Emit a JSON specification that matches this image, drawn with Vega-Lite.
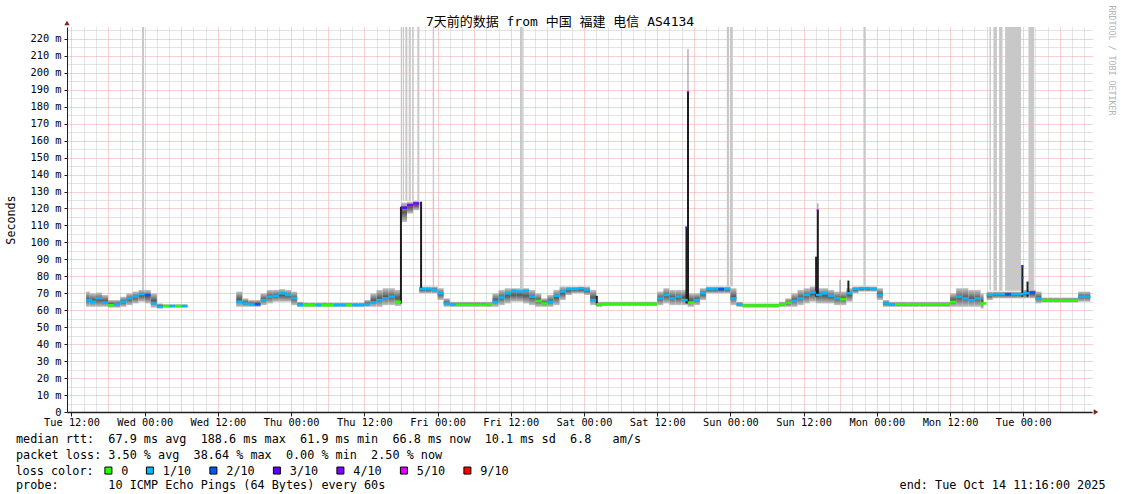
{
  "$schema": "https://vega.github.io/schema/vega-lite/v6.json",
  "width": 1025,
  "height": 385,
  "autosize": "none",
  "padding": {"left": 67, "top": 27, "right": 29, "bottom": 82},
  "background": "white",
  "title": {
    "text": "7天前的数据 from 中国 福建 电信 AS4134",
    "font": "DejaVu Sans Mono, Noto Sans CJK SC",
    "fontSize": 13,
    "fontWeight": "normal",
    "color": "#000000",
    "anchor": "middle",
    "dx": -19.5,
    "offset": -23.5
  },
  "config": {
    "view": {"stroke": null},
    "font": "DejaVu Sans Mono"
  },
  "resolve": {"axis": {"x": "independent", "y": "independent"}},
  "datasets": {
    "smoke": [
      {"t":14.4,"t2":15,"lo":62,"hi":71,"m":66,"l":"1/10"},
      {"t":15,"t2":16,"lo":62,"hi":70,"m":65,"l":"1/10"},
      {"t":16,"t2":17,"lo":62,"hi":70.5,"m":67,"l":"1/10"},
      {"t":17,"t2":18,"lo":62,"hi":69,"m":64.5,"l":"1/10"},
      {"t":18,"t2":19,"lo":61.5,"hi":66,"m":63,"l":"0"},
      {"t":19,"t2":20,"lo":61.5,"hi":66,"m":63.5,"l":"1/10"},
      {"t":20,"t2":21,"lo":62,"hi":68,"m":65,"l":"1/10"},
      {"t":21,"t2":22,"lo":63,"hi":70,"m":67,"l":"1/10"},
      {"t":22,"t2":23,"lo":64,"hi":71,"m":68,"l":"1/10"},
      {"t":23,"t2":24,"lo":65,"hi":72,"m":69.5,"l":"1/10"},
      {"t":24,"t2":25,"lo":64,"hi":72,"m":69,"l":"2/10"},
      {"t":25,"t2":26,"lo":61.5,"hi":70,"m":64,"l":"1/10"},
      {"t":26,"t2":27,"lo":61,"hi":64,"m":62,"l":"1/10"},
      {"t":27,"t2":28,"lo":61.5,"hi":63.5,"m":62.5,"l":"0"},
      {"t":28,"t2":29,"lo":61.5,"hi":63.5,"m":62.5,"l":"1/10"},
      {"t":29,"t2":30,"lo":61.5,"hi":63.5,"m":62.5,"l":"0"},
      {"t":30,"t2":31,"lo":61.5,"hi":63.5,"m":62.5,"l":"1/10"},
      {"t":39,"t2":40,"lo":62,"hi":71,"m":65,"l":"1/10"},
      {"t":40,"t2":41,"lo":62,"hi":67,"m":64,"l":"1/10"},
      {"t":41,"t2":42,"lo":62,"hi":66,"m":63.5,"l":"1/10"},
      {"t":42,"t2":43,"lo":62,"hi":66,"m":63.5,"l":"2/10"},
      {"t":43,"t2":44,"lo":63,"hi":70,"m":66,"l":"1/10"},
      {"t":44,"t2":45,"lo":64,"hi":72,"m":68,"l":"1/10"},
      {"t":45,"t2":46,"lo":65,"hi":72,"m":68.5,"l":"1/10"},
      {"t":46,"t2":47,"lo":65,"hi":72.5,"m":70,"l":"1/10"},
      {"t":47,"t2":48,"lo":65,"hi":72,"m":69,"l":"1/10"},
      {"t":48,"t2":49,"lo":63,"hi":71,"m":67,"l":"1/10"},
      {"t":49,"t2":50,"lo":62,"hi":65,"m":63,"l":"1/10"},
      {"t":50,"t2":51,"lo":62,"hi":64.5,"m":63,"l":"0"},
      {"t":51,"t2":52,"lo":62,"hi":64.5,"m":63,"l":"0"},
      {"t":52,"t2":53,"lo":62,"hi":64.5,"m":63,"l":"1/10"},
      {"t":53,"t2":54,"lo":62,"hi":64.5,"m":63,"l":"0"},
      {"t":54,"t2":55,"lo":62,"hi":64.5,"m":63,"l":"0"},
      {"t":55,"t2":56,"lo":62,"hi":64.5,"m":63,"l":"1/10"},
      {"t":56,"t2":57,"lo":62,"hi":64.5,"m":63,"l":"1/10"},
      {"t":57,"t2":58,"lo":62,"hi":64.5,"m":63,"l":"0"},
      {"t":58,"t2":59,"lo":62,"hi":64.5,"m":63,"l":"1/10"},
      {"t":59,"t2":60,"lo":62,"hi":64.5,"m":63,"l":"1/10"},
      {"t":60,"t2":61,"lo":62,"hi":66,"m":63.5,"l":"1/10"},
      {"t":61,"t2":62,"lo":62,"hi":70,"m":64.5,"l":"1/10"},
      {"t":62,"t2":63,"lo":62,"hi":72,"m":66,"l":"1/10"},
      {"t":63,"t2":64,"lo":63,"hi":73,"m":67,"l":"1/10"},
      {"t":64,"t2":65,"lo":63,"hi":73,"m":68,"l":"1/10"},
      {"t":65,"t2":66,"lo":62.5,"hi":72,"m":65,"l":"0"},
      {"t":66,"t2":67,"lo":112,"hi":123.5,"m":120.5,"l":"3/10"},
      {"t":67,"t2":68,"lo":117,"hi":124,"m":122,"l":"4/10"},
      {"t":68,"t2":69,"lo":119,"hi":124.5,"m":123,"l":"4/10"},
      {"t":69,"t2":70,"lo":70,"hi":74,"m":72.5,"l":"1/10"},
      {"t":70,"t2":71,"lo":70,"hi":74,"m":72.5,"l":"1/10"},
      {"t":71,"t2":72,"lo":70,"hi":74,"m":72,"l":"1/10"},
      {"t":72,"t2":73,"lo":66,"hi":73,"m":70,"l":"1/10"},
      {"t":73,"t2":74,"lo":62,"hi":67,"m":64,"l":"1/10"},
      {"t":74,"t2":75,"lo":62,"hi":65,"m":63.5,"l":"1/10"},
      {"t":75,"t2":76,"lo":62,"hi":65,"m":63.3,"l":"0"},
      {"t":76,"t2":77,"lo":62,"hi":65,"m":63.3,"l":"0"},
      {"t":77,"t2":78,"lo":62,"hi":65,"m":63.3,"l":"0"},
      {"t":78,"t2":79,"lo":62,"hi":65,"m":63.3,"l":"0"},
      {"t":79,"t2":80,"lo":62,"hi":65,"m":63.3,"l":"0"},
      {"t":80,"t2":81,"lo":62,"hi":65,"m":63.5,"l":"0"},
      {"t":81,"t2":82,"lo":62,"hi":70,"m":65,"l":"1/10"},
      {"t":82,"t2":83,"lo":63,"hi":72,"m":67.5,"l":"1/10"},
      {"t":83,"t2":84,"lo":64,"hi":73,"m":70,"l":"1/10"},
      {"t":84,"t2":85,"lo":65,"hi":73,"m":71.5,"l":"1/10"},
      {"t":85,"t2":86,"lo":65,"hi":73,"m":71,"l":"1/10"},
      {"t":86,"t2":87,"lo":64,"hi":73,"m":71.5,"l":"1/10"},
      {"t":87,"t2":88,"lo":63,"hi":72,"m":68,"l":"1/10"},
      {"t":88,"t2":89,"lo":62,"hi":70,"m":65.5,"l":"0"},
      {"t":89,"t2":90,"lo":62,"hi":67,"m":64,"l":"0"},
      {"t":90,"t2":91,"lo":62,"hi":69,"m":65,"l":"1/10"},
      {"t":91,"t2":92,"lo":63,"hi":72,"m":68.5,"l":"1/10"},
      {"t":92,"t2":93,"lo":66,"hi":74,"m":71,"l":"1/10"},
      {"t":93,"t2":94,"lo":69,"hi":74,"m":72.5,"l":"1/10"},
      {"t":94,"t2":95,"lo":70,"hi":74,"m":72.5,"l":"1/10"},
      {"t":95,"t2":96,"lo":70,"hi":74,"m":73,"l":"1/10"},
      {"t":96,"t2":97,"lo":69,"hi":74,"m":72,"l":"1/10"},
      {"t":97,"t2":98,"lo":63,"hi":72,"m":66,"l":"1/10"},
      {"t":98,"t2":99,"lo":62,"hi":65,"m":63.5,"l":"0"},
      {"t":99,"t2":100,"lo":62.5,"hi":65,"m":63.8,"l":"0"},
      {"t":100,"t2":101,"lo":62.5,"hi":65,"m":63.8,"l":"0"},
      {"t":101,"t2":102,"lo":62.5,"hi":65,"m":63.8,"l":"0"},
      {"t":102,"t2":103,"lo":62.5,"hi":65,"m":63.8,"l":"0"},
      {"t":103,"t2":104,"lo":62.5,"hi":65,"m":63.8,"l":"0"},
      {"t":104,"t2":105,"lo":62.5,"hi":65,"m":63.8,"l":"0"},
      {"t":105,"t2":106,"lo":62.5,"hi":65,"m":63.8,"l":"0"},
      {"t":106,"t2":107,"lo":62.5,"hi":65,"m":63.8,"l":"0"},
      {"t":107,"t2":108,"lo":62.5,"hi":65,"m":63.8,"l":"0"},
      {"t":108,"t2":109,"lo":63,"hi":71,"m":67,"l":"1/10"},
      {"t":109,"t2":110,"lo":64,"hi":73,"m":69,"l":"1/10"},
      {"t":110,"t2":111,"lo":63,"hi":72,"m":67,"l":"1/10"},
      {"t":111,"t2":112,"lo":63,"hi":72,"m":68,"l":"1/10"},
      {"t":112,"t2":113,"lo":63,"hi":72,"m":66,"l":"1/10"},
      {"t":113,"t2":114,"lo":62,"hi":70,"m":64.5,"l":"0"},
      {"t":114,"t2":115,"lo":63,"hi":70,"m":66,"l":"1/10"},
      {"t":115,"t2":116,"lo":66,"hi":73,"m":70,"l":"1/10"},
      {"t":116,"t2":117,"lo":70,"hi":74,"m":72.5,"l":"1/10"},
      {"t":117,"t2":118,"lo":70,"hi":74,"m":72.5,"l":"1/10"},
      {"t":118,"t2":119,"lo":70,"hi":74,"m":72.5,"l":"2/10"},
      {"t":119,"t2":120,"lo":70,"hi":74,"m":72.5,"l":"1/10"},
      {"t":120,"t2":121,"lo":63,"hi":73,"m":67,"l":"1/10"},
      {"t":121,"t2":122,"lo":62,"hi":65,"m":63.5,"l":"1/10"},
      {"t":122,"t2":123,"lo":61.5,"hi":64,"m":62.8,"l":"0"},
      {"t":123,"t2":124,"lo":61.5,"hi":64,"m":62.8,"l":"0"},
      {"t":124,"t2":125,"lo":61.5,"hi":64,"m":62.8,"l":"0"},
      {"t":125,"t2":126,"lo":61.5,"hi":64,"m":62.8,"l":"0"},
      {"t":126,"t2":127,"lo":61.5,"hi":64,"m":62.8,"l":"0"},
      {"t":127,"t2":128,"lo":61.5,"hi":64,"m":62.8,"l":"0"},
      {"t":128,"t2":129,"lo":62,"hi":65,"m":63.5,"l":"0"},
      {"t":129,"t2":130,"lo":62,"hi":67,"m":64.5,"l":"0"},
      {"t":130,"t2":131,"lo":62,"hi":70,"m":65.5,"l":"1/10"},
      {"t":131,"t2":132,"lo":63,"hi":72,"m":67,"l":"1/10"},
      {"t":132,"t2":133,"lo":64,"hi":73,"m":69,"l":"1/10"},
      {"t":133,"t2":134,"lo":65,"hi":74,"m":70.5,"l":"1/10"},
      {"t":134,"t2":135,"lo":64,"hi":73,"m":69,"l":"1/10"},
      {"t":135,"t2":136,"lo":64,"hi":73,"m":70,"l":"1/10"},
      {"t":136,"t2":137,"lo":64,"hi":72,"m":68.5,"l":"1/10"},
      {"t":137,"t2":138,"lo":63,"hi":71,"m":67,"l":"1/10"},
      {"t":138,"t2":139,"lo":63,"hi":71,"m":66.5,"l":"0"},
      {"t":139,"t2":140,"lo":65,"hi":73,"m":70,"l":"1/10"},
      {"t":140,"t2":141,"lo":70,"hi":74,"m":72.5,"l":"1/10"},
      {"t":141,"t2":142,"lo":71,"hi":74,"m":73,"l":"1/10"},
      {"t":142,"t2":143,"lo":71,"hi":74,"m":73,"l":"1/10"},
      {"t":143,"t2":144,"lo":71,"hi":74,"m":72.5,"l":"1/10"},
      {"t":144,"t2":145,"lo":66,"hi":73,"m":69,"l":"1/10"},
      {"t":145,"t2":146,"lo":62,"hi":66,"m":64,"l":"1/10"},
      {"t":146,"t2":147,"lo":62,"hi":65,"m":63.5,"l":"1/10"},
      {"t":147,"t2":148,"lo":62,"hi":65,"m":63.5,"l":"0"},
      {"t":148,"t2":149,"lo":62,"hi":65,"m":63.5,"l":"0"},
      {"t":149,"t2":150,"lo":62,"hi":65,"m":63.5,"l":"0"},
      {"t":150,"t2":151,"lo":62,"hi":65,"m":63.5,"l":"0"},
      {"t":151,"t2":152,"lo":62,"hi":65,"m":63.5,"l":"0"},
      {"t":152,"t2":153,"lo":62,"hi":65,"m":63.5,"l":"0"},
      {"t":153,"t2":154,"lo":62,"hi":65,"m":63.5,"l":"0"},
      {"t":154,"t2":155,"lo":62,"hi":65,"m":63.5,"l":"0"},
      {"t":155,"t2":156,"lo":62,"hi":65,"m":63.5,"l":"0"},
      {"t":156,"t2":157,"lo":62,"hi":70,"m":65,"l":"0"},
      {"t":157,"t2":158,"lo":62,"hi":73,"m":68,"l":"1/10"},
      {"t":158,"t2":159,"lo":62,"hi":73,"m":67,"l":"1/10"},
      {"t":159,"t2":160,"lo":62,"hi":72,"m":66,"l":"1/10"},
      {"t":160,"t2":161,"lo":62,"hi":72,"m":67,"l":"1/10"},
      {"t":161,"t2":161.5,"lo":61,"hi":70,"m":64,"l":"0"},
      {"t":162,"t2":163,"lo":66,"hi":71,"m":69,"l":"1/10"},
      {"t":163,"t2":164,"lo":67,"hi":71,"m":69.5,"l":"1/10"},
      {"t":164,"t2":165,"lo":67,"hi":71,"m":69.5,"l":"1/10"},
      {"t":165,"t2":166,"lo":67,"hi":71,"m":69.5,"l":"2/10"},
      {"t":166,"t2":167,"lo":67,"hi":71,"m":69.5,"l":"1/10"},
      {"t":167,"t2":168,"lo":67,"hi":71,"m":69.5,"l":"1/10"},
      {"t":168,"t2":169,"lo":67,"hi":72,"m":70,"l":"1/10"},
      {"t":169,"t2":170,"lo":67,"hi":72,"m":70.5,"l":"2/10"},
      {"t":170,"t2":171,"lo":64,"hi":71,"m":67,"l":"1/10"},
      {"t":171,"t2":172,"lo":64.5,"hi":67.5,"m":65.8,"l":"0"},
      {"t":172,"t2":173,"lo":64.5,"hi":67.5,"m":65.8,"l":"0"},
      {"t":173,"t2":174,"lo":64.5,"hi":67.5,"m":65.8,"l":"0"},
      {"t":174,"t2":175,"lo":64.5,"hi":67.5,"m":65.8,"l":"0"},
      {"t":175,"t2":176,"lo":64.5,"hi":67.5,"m":65.8,"l":"0"},
      {"t":176,"t2":177,"lo":64.5,"hi":67.5,"m":65.8,"l":"0"},
      {"t":177,"t2":178,"lo":65,"hi":71,"m":68,"l":"1/10"},
      {"t":178,"t2":179,"lo":65,"hi":71,"m":68,"l":"1/10"}
    ],
    "lossbars": [
      {"t":23.56,"t2":23.89,"b":71},
      {"t":65.97,"t2":66.18,"b":124.5},
      {"t":66.30,"t2":66.51,"b":124.5},
      {"t":66.72,"t2":67.05,"b":124.5},
      {"t":67.28,"t2":67.61,"b":124.5},
      {"t":67.82,"t2":68.03,"b":124.5},
      {"t":68.69,"t2":69.02,"b":124.5},
      {"t":71.21,"t2":71.43,"b":74},
      {"t":85.52,"t2":85.97,"b":73},
      {"t":119.41,"t2":119.79,"b":74},
      {"t":119.95,"t2":120.39,"b":74},
      {"t":141.8,"t2":142.13,"b":74},
      {"t":162.46,"t2":162.69,"b":71.5},
      {"t":163.12,"t2":163.67,"b":71.5},
      {"t":164.05,"t2":164.59,"b":71.5},
      {"t":165.03,"t2":167.65,"b":71.5},
      {"t":168.85,"t2":169.79,"b":71.5}
    ],
    "spikesdark": [
      {"t":66.0,"lo":64,"hi":121},
      {"t":69.3,"lo":72,"hi":124},
      {"t":98.1,"lo":63,"hi":68.5},
      {"t":112.8,"lo":64,"hi":109},
      {"t":113.05,"lo":64,"hi":189},
      {"t":134.05,"lo":68,"hi":91.6},
      {"t":134.33,"lo":68,"hi":119},
      {"t":139.34,"lo":70,"hi":77.5},
      {"t":167.85,"lo":68,"hi":86.7},
      {"t":168.7,"lo":68,"hi":76.9}
    ],
    "spikeslight": [
      {"t":113.05,"lo":189,"hi":214},
      {"t":134.33,"lo":119,"hi":123},
      {"t":137.97,"lo":70,"hi":78}
    ],
    "spikemed": [
      {"t":112.8,"m":109,"l":"3/10"},
      {"t":113.05,"m":188.6,"l":"4/10"},
      {"t":134.33,"m":119,"l":"4/10"},
      {"t":167.85,"m":86,"l":"2/10"},
      {"t":167.85,"m":79,"l":"2/10"}
    ]
  },
  "layer": [
    {
      "data": {"name": "lossbars"},
      "mark": {"type": "rect", "color": "#c8c8c8"},
      "encoding": {
        "x": {
          "field": "t", "type": "quantitative",
          "scale": {"domain": [11.2667, 179.2667], "nice": false, "zero": false},
          "axis": {
            "orient": "bottom", "domain": false, "ticks": false, "labels": false, "grid": false,
            "title": "end: Tue Oct 14 11:16:00 2025",
            "titleFont": "DejaVu Sans Mono", "titleFontSize": 11.8, "titleFontWeight": "normal", "titleColor": "#000000",
            "titleAlign": "right", "titleBaseline": "alphabetic", "titleX": 1038, "titleY": 76.4
          }
        },
        "x2": {"field": "t2"},
        "y": {
          "field": "b", "type": "quantitative",
          "scale": {"domain": [0, 227], "nice": false, "zero": true},
          "axis": {
            "orient": "right",
            "domain": false, "ticks": false, "labels": false, "grid": false,
            "title": "RRDTOOL / TOBI OETIKER",
            "titleAngle": 90,
            "titleColor": "#b4b4b4",
            "titleFont": "DejaVu Sans Mono",
            "titleFontSize": 8.3,
            "titleFontWeight": "normal",
            "titleX": 18,
            "titleY": 33,
            "titleAlign": "center",
            "titleBaseline": "middle"
          }
        },
        "y2": {"datum": 227}
      }
    },
    {
      "data": {"name": "smoke"},
      "mark": {
        "type": "rect",
        "fill": {
          "x1": 0, "y1": 0, "x2": 0, "y2": 1,
          "gradient": "linear",
          "stops": [
            {"offset": 0, "color": "#c4c4c4"},
            {"offset": 0.5, "color": "#5a5a5a"},
            {"offset": 1, "color": "#c4c4c4"}
          ]
        }
      },
      "encoding": {
        "x": {
          "field": "t", "type": "quantitative",
          "axis": {
            "orient": "bottom",
            "values": [12,14,16,18,20,22,24,26,28,30,32,34,36,38,40,42,44,46,48,50,52,54,56,58,60,62,64,66,68,70,72,74,76,78,80,82,84,86,88,90,92,94,96,98,100,102,104,106,108,110,112,114,116,118,120,122,124,126,128,130,132,134,136,138,140,142,144,146,148,150,152,154,156,158,160,162,164,166,168,170,172,174,176,178],
            "labelExpr": "datum.value % 12 ? '' : (datum.value < 24 ? 'Tue' : datum.value < 48 ? 'Wed' : datum.value < 72 ? 'Thu' : datum.value < 96 ? 'Fri' : datum.value < 120 ? 'Sat' : datum.value < 144 ? 'Sun' : datum.value < 168 ? 'Mon' : 'Tue') + (datum.value % 24 ? ' 12:00' : ' 00:00')",
            "labelFont": "DejaVu Sans Mono",
            "labelFontSize": 10.3,
            "labelColor": "#000000",
            "labelPadding": 1,
            "labelOverlap": false,
            "labelFlush": false,
            "labelBound": false,
            "grid": true,
            "gridColor": {"condition": {"test": "datum.value % 6 === 0", "value": "#eea3a3"}, "value": "#c8c8c8"},
            "gridDash": [1, 1],
            "gridWidth": 1,
            "domainColor": "#1f1f1f",
            "domainWidth": 1.5,
            "tickColor": {"condition": {"test": "datum.value % 12 === 0", "value": "#1f1f1f"}, "value": "transparent"},
            "tickSize": 4,
            "title": null
          }
        },
        "x2": {"field": "t2"},
        "y": {
          "field": "lo", "type": "quantitative",
          "axis": {
            "orient": "left",
            "values": [0,5,10,15,20,25,30,35,40,45,50,55,60,65,70,75,80,85,90,95,100,105,110,115,120,125,130,135,140,145,150,155,160,165,170,175,180,185,190,195,200,205,210,215,220,225],
            "labelExpr": "datum.value % 10 ? '' : (datum.value == 0 ? '0\u00a0\u00a0' : datum.value + ' m')",
            "labelFont": "DejaVu Sans Mono",
            "labelFontSize": 10.3,
            "labelColor": "#000000",
            "labelPadding": 3,
            "labelOverlap": false,
            "labelBound": false,
            "labelFlush": false,
            "grid": true,
            "gridColor": {"condition": {"test": "datum.value % 10 === 0", "value": "#eea3a3"}, "value": "#c8c8c8"},
            "gridDash": [1, 1],
            "gridWidth": 1,
            "domainColor": "#1f1f1f",
            "domainWidth": 1,
            "tickColor": {"condition": {"test": "datum.value % 10 === 0", "value": "#1f1f1f"}, "value": "transparent"},
            "tickSize": 3,
            "title": "Seconds",
            "titleFont": "DejaVu Sans Mono",
            "titleFontSize": 11.7,
            "titleFontWeight": "normal",
            "titleColor": "#000000",
            "titleX": -57,
            "titleY": 192.5,
            "titleAngle": 270,
            "titleAlign": "center",
            "titleBaseline": "middle"
          }
        },
        "y2": {"field": "hi"}
      }
    },
    {
      "data": {"name": "spikesdark"},
      "mark": {"type": "rule", "color": "#1e1e1e", "strokeWidth": 2},
      "encoding": {
        "x": {
          "field": "t", "type": "quantitative",
          "axis": {
            "orient": "bottom", "domain": false, "ticks": false, "labels": false, "grid": false,
            "title": "median rtt:\u00a0\u00a067.9 ms avg\u00a0\u00a0188.6 ms max\u00a0\u00a061.9 ms min\u00a0\u00a066.8 ms now\u00a0\u00a010.1 ms sd\u00a0\u00a06.8\u00a0\u00a0\u00a0am/s",
            "titleFont": "DejaVu Sans Mono", "titleFontSize": 11.8, "titleFontWeight": "normal", "titleColor": "#000000",
            "titleAlign": "left", "titleBaseline": "alphabetic", "titleX": -51.5, "titleY": 30.8
          }
        },
        "y": {"field": "lo", "type": "quantitative", "axis": null},
        "y2": {"field": "hi"}
      }
    },
    {
      "data": {"name": "spikeslight"},
      "mark": {"type": "rule", "color": "#8c8c8c", "strokeWidth": 1},
      "encoding": {
        "x": {
          "field": "t", "type": "quantitative",
          "axis": {
            "orient": "bottom", "domain": false, "ticks": false, "labels": false, "grid": false,
            "title": "packet loss: 3.50 % avg\u00a0\u00a038.64 % max\u00a0\u00a00.00 % min\u00a0\u00a02.50 % now",
            "titleFont": "DejaVu Sans Mono", "titleFontSize": 11.8, "titleFontWeight": "normal", "titleColor": "#000000",
            "titleAlign": "left", "titleBaseline": "alphabetic", "titleX": -51.5, "titleY": 46
          }
        },
        "y": {"field": "lo", "type": "quantitative", "axis": null},
        "y2": {"field": "hi"}
      }
    },
    {
      "data": {"name": "smoke"},
      "mark": {"type": "tick", "orient": "horizontal", "size": 6.1, "thickness": 2.5, "xOffset": 3.05, "opacity": 1},
      "encoding": {
        "x": {"field": "t", "type": "quantitative", "axis": null},
        "y": {"field": "m", "type": "quantitative", "axis": null},
        "color": {
          "field": "l", "type": "nominal",
          "scale": {
            "domain": ["0", "1/10", "2/10", "3/10", "4/10", "5/10", "9/10"],
            "range": ["#26ff00", "#00b8ff", "#0059ff", "#5e00ff", "#7e00ff", "#dd00ff", "#ff0000"]
          },
          "legend": {
            "orient": "none",
            "legendX": -51.5,
            "legendY": 437.5,
            "direction": "horizontal",
            "title": "loss color:",
            "titleOrient": "left",
            "titleFont": "DejaVu Sans Mono",
            "titleFontSize": 11.8,
            "titleFontWeight": "normal",
            "titleColor": "#000000",
            "titlePadding": 8,
            "labelFont": "DejaVu Sans Mono",
            "labelFontSize": 11.8,
            "labelColor": "#000000",
            "labelOffset": 7,
            "symbolType": "square",
            "symbolSize": 49,
            "symbolStrokeColor": "#000000",
            "symbolStrokeWidth": 1,
            "symbolOpacity": 1,
            "columnPadding": 15.5,
            "padding": 0
          }
        }
      }
    },
    {
      "data": {"name": "spikemed"},
      "mark": {"type": "tick", "orient": "horizontal", "size": 2.5, "thickness": 2},
      "encoding": {
        "x": {
          "field": "t", "type": "quantitative",
          "axis": {
            "orient": "bottom", "domain": false, "ticks": false, "labels": false, "grid": false,
            "title": "probe:\u00a0\u00a0\u00a0\u00a0\u00a0\u00a0\u00a010 ICMP Echo Pings (64 Bytes) every 60s",
            "titleFont": "DejaVu Sans Mono", "titleFontSize": 11.8, "titleFontWeight": "normal", "titleColor": "#000000",
            "titleAlign": "left", "titleBaseline": "alphabetic", "titleX": -51.5, "titleY": 76.4
          }
        },
        "y": {"field": "m", "type": "quantitative", "axis": null},
        "color": {"field": "l", "type": "nominal", "legend": null}
      }
    },
    {
      "data": {"values": [{}]},
      "mark": {"type": "point", "shape": "triangle-up", "filled": true, "color": "#801f1f", "size": 28, "yOffset": -4, "opacity": 1},
      "encoding": {
        "x": {"datum": 11.2667, "type": "quantitative", "axis": null},
        "y": {"datum": 227, "type": "quantitative", "axis": null}
      }
    },
    {
      "data": {"values": [{}]},
      "mark": {"type": "point", "shape": "triangle-right", "filled": true, "color": "#801f1f", "size": 28, "xOffset": 4, "opacity": 1},
      "encoding": {
        "x": {"datum": 179.2667, "type": "quantitative", "axis": null},
        "y": {"datum": 0, "type": "quantitative", "axis": null}
      }
    }
  ]
}
